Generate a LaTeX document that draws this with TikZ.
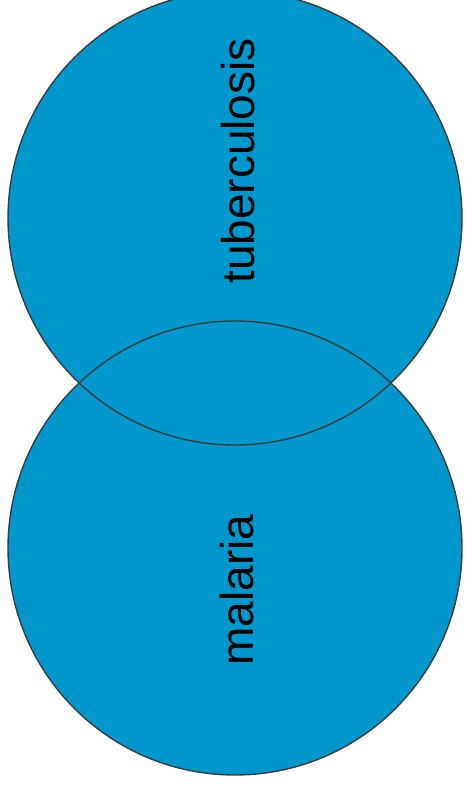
\documentclass[tikz,border=0pt]{standalone}
\usepackage{fontspec}
\setmainfont{Liberation Sans}
\definecolor{SetBlue}{RGB}{0,152,204}
\definecolor{SetEdge}{RGB}{60,60,60}

\begin{document}
\begin{tikzpicture}[x=1pt, y=-1pt,
  setdisc/.style={circle, fill=SetBlue, minimum size=454pt, inner sep=0pt},
  setname/.style={rotate=90, anchor=base, font=\fontsize{46}{52}\selectfont}]
  \useasboundingbox (0,0) rectangle (464,791);
  \node[setdisc] (tb) at (235,218) {};
  \node[setdisc] (mal) at (235,548) {};
  \draw[SetEdge, line width=1.4pt] (tb.center) circle[radius=227];
  \draw[SetEdge, line width=1.4pt] (mal.center) circle[radius=227];
  \node[setname] (tbname) at (254,161) {tuberculosis};
  \node[setname] (malname) at (253,590) {malaria};
\end{tikzpicture}
\end{document}
